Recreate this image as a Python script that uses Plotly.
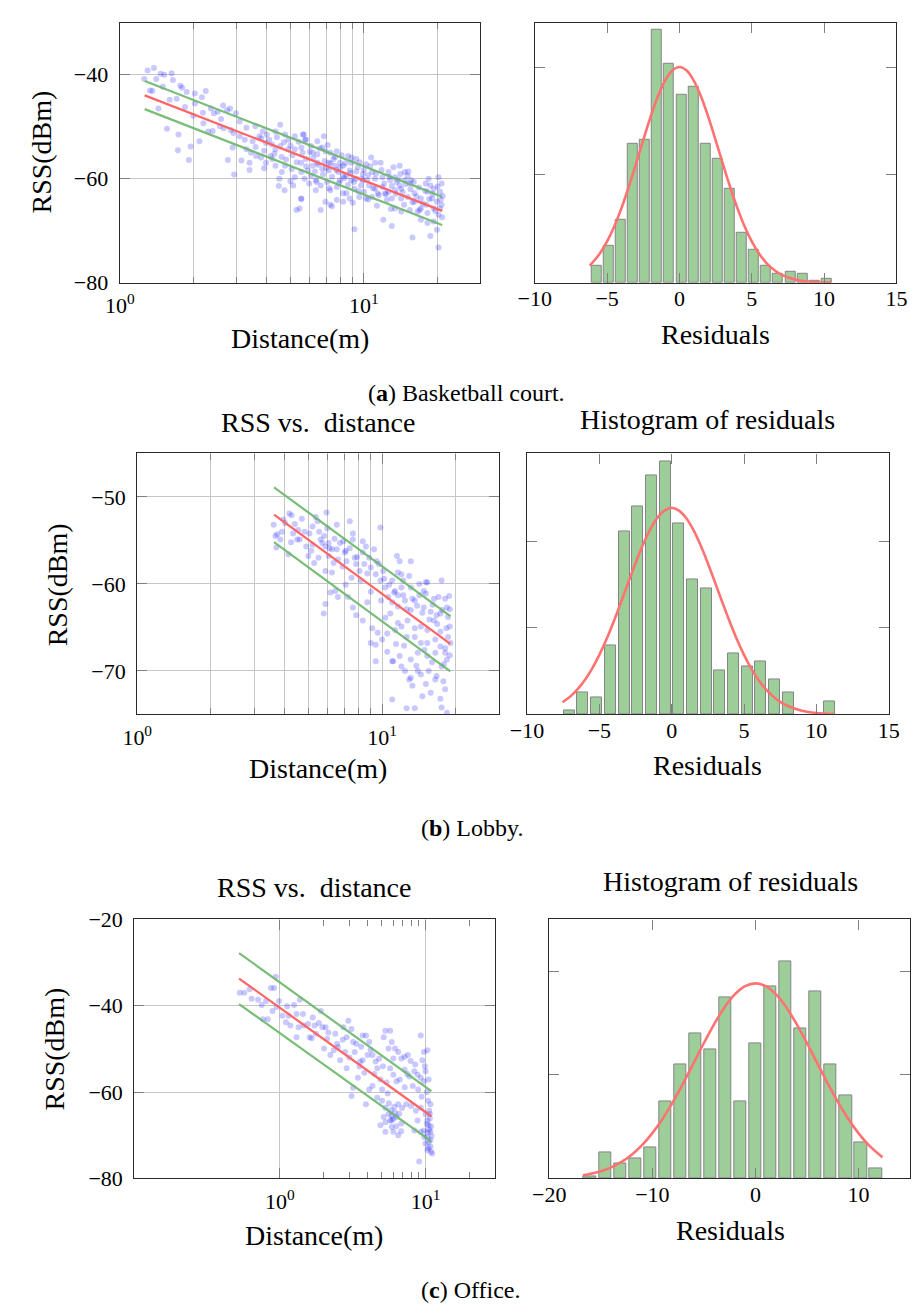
import plotly.graph_objects as go

# ================= DATA =================
# ---- (a) Basketball court : RSS vs distance samples ----
a_dist = [1.30, 1.38, 1.47, 1.52, 1.63, 1.65, 1.41, 1.26, 1.33, 1.36, 1.44, 1.56, 1.74, 1.73, 1.92, 1.95,
          2.12, 2.30, 2.25, 2.17, 2.03, 1.88, 1.80, 1.77, 1.71, 2.03, 2.19, 2.36, 2.43, 2.52, 2.65, 2.75,
          2.83, 2.99, 2.57, 2.67, 2.85, 2.92, 2.90, 2.77, 2.94, 3.15, 3.40, 3.45, 3.59, 3.73, 3.85, 3.97,
          4.09, 4.34, 4.54, 4.75, 4.90, 5.21, 5.67, 5.79, 3.62, 3.79, 3.97, 4.34, 4.61, 4.75, 5.06, 5.21,
          5.54, 4.34, 4.54, 4.90, 5.21, 5.54, 4.48, 4.73, 5.13, 5.54, 5.29, 3.25, 3.30, 3.10, 4.21, 4.15,
          5.62, 5.74, 6.07, 6.44, 6.85, 6.75, 6.95, 7.28, 7.74, 7.51, 7.18, 6.44, 6.17, 5.89, 5.71, 6.07,
          6.35, 6.65, 7.06, 7.28, 7.74, 7.98, 8.47, 8.74, 9.29, 9.44, 9.89, 10.2, 10.7, 11.1, 11.7, 10.8,
          10.3, 11.1, 11.9, 12.6, 12.8, 13.4, 14.0, 14.7, 15.1, 15.4, 14.2, 13.4, 12.6, 11.5, 10.8, 10.2,
          9.57, 8.74, 8.22, 7.74, 7.28, 6.95, 6.65, 7.39, 8.47, 9.14, 9.72, 11.9, 12.4, 13.4, 14.2, 15.4,
          16.1, 17.1, 18.2, 18.7, 19.0, 19.9, 20.5, 20.2, 19.3, 18.2, 17.1, 16.6, 18.2, 19.9, 18.7, 20.2,
          15.8, 13.0, 12.0, 9.14, 5.53, 5.45, 5.97, 6.35, 15.6, 14.7, 14.0, 13.6, 17.9, 19.3, 20.5, 20.8,
          20.2, 18.4, 20.8, 19.3, 17.1, 16.1, 15.1, 14.2, 13.0, 12.2, 11.1, 10.5, 9.89, 9.29, 8.87, 8.22,
          7.85, 8.22, 8.87, 8.61, 7.98, 7.62, 7.18, 6.75, 6.44, 6.17, 5.79, 5.53,
          3.3, 3.5, 3.6, 3.8, 3.9, 4.0, 4.2, 4.3, 4.4, 4.6, 4.7, 4.8, 5.0, 5.1, 5.3, 5.4,
          5.6, 5.8, 3.4, 3.9, 4.5, 5.0, 3.1, 2.6, 2.4, 2.2, 2.0, 1.85, 1.6, 1.5,
          6.0, 6.2, 6.3, 6.5, 6.6, 6.8, 6.9, 7.0, 7.1, 7.3, 7.4, 7.6, 7.7, 7.9, 8.0, 8.1,
          8.3, 8.4, 8.6, 8.8, 8.9, 9.1, 9.3, 9.5, 9.6, 9.8, 10.0, 10.0, 6.4, 7.2, 8.2, 9.0,
          10.4, 10.6, 10.9, 11.2, 11.4, 11.8, 12.1, 12.3, 12.7, 13.0, 13.2, 13.5, 13.8, 14.1, 14.4, 14.8,
          15.2, 15.5, 16.0, 16.4, 16.8, 17.4, 17.8, 18.5, 19.1, 19.6, 20.0, 20.6, 21.0, 20.9, 18.0, 16.9,
          15.8, 14.6, 12.9, 11.3, 10.4]
a_rss = [-39.2, -38.7, -39.8, -40.0, -39.7, -41.0, -40.8, -40.8, -43.0, -43.1, -46.5, -50.4, -51.5, -54.5, -56.4, -53.8,
         -52.8, -50.9, -43.1, -44.3, -43.6, -43.3, -42.5, -42.1, -44.6, -45.5, -47.3, -46.5, -47.4, -47.1, -45.9, -46.8,
         -46.5, -47.4, -49.9, -50.3, -50.6, -51.2, -54.0, -56.4, -59.2, -56.5, -56.9, -55.0, -49.9, -51.8, -50.9, -53.1,
         -52.5, -50.9, -49.6, -51.5, -52.5, -51.8, -51.5, -52.5, -55.6, -55.9, -56.9, -57.5, -58.7, -57.5, -58.1, -59.7,
         -58.7, -54.3, -53.7, -54.3, -54.3, -54.0, -61.4, -62.2, -61.3, -63.9, -66.0, -52.5, -54.3, -51.8, -56.2, -55.6,
         -51.5, -52.5, -53.7, -52.8, -51.8, -54.0, -54.7, -55.0, -54.7, -56.2, -56.9, -56.9, -57.5, -58.4, -60.0, -59.4,
         -60.3, -61.3, -60.6, -62.2, -61.6, -60.3, -59.4, -58.4, -56.2, -57.8, -59.1, -57.2, -55.9, -56.9, -56.9, -58.7,
         -60.3, -60.0, -59.7, -58.7, -60.3, -59.7, -57.5, -58.7, -59.4, -60.9, -61.9, -62.2, -62.5, -63.1, -63.5, -63.8,
         -63.5, -63.8, -64.4, -64.1, -65.0, -64.4, -66.0, -65.3, -62.8, -61.9, -61.3, -61.6, -64.1, -65.7, -66.3, -66.0,
         -64.4, -63.8, -62.5, -61.3, -63.8, -64.4, -65.7, -66.9, -68.2, -68.5, -67.9, -66.3, -66.6, -69.8, -71.0, -73.2,
         -71.3, -69.1, -67.9, -69.7, -63.8, -65.7, -60.9, -62.2, -60.3, -60.3, -61.3, -60.6, -60.9, -61.9, -62.5, -60.9,
         -59.7, -60.0, -65.0, -65.7, -65.7, -62.8, -63.5, -63.8, -63.8, -62.8, -61.9, -61.3, -60.3, -60.0, -60.3, -59.4,
         -58.7, -57.5, -56.9, -55.6, -56.9, -57.5, -58.4, -58.1, -55.3, -55.0, -56.2, -56.9,
         -50.2, -52.8, -53.9, -52.2, -54.6, -51.5, -53.4, -55.2, -52.0, -55.8, -53.0, -56.3, -53.6, -55.5, -56.8, -52.9,
         -55.0, -57.6, -58.3, -58.0, -60.0, -60.5, -49.0, -48.5, -50.8, -49.3, -47.9, -46.2, -44.8, -42.3,
         -54.8, -56.0, -58.6, -57.3, -54.2, -59.2, -56.6, -58.0, -53.5, -57.0, -59.6, -55.8, -58.3, -60.8, -57.8, -55.5,
         -59.9, -57.0, -61.2, -58.9, -55.9, -60.6, -58.6, -62.4, -56.8, -60.0, -58.3, -62.5, -60.6, -61.8, -62.8, -64.6,
         -59.3, -57.6, -61.8, -59.0, -62.8, -58.3, -60.9, -63.0, -59.6, -61.4, -57.8, -62.9, -60.2, -59.1, -62.6, -61.0,
         -58.6, -62.0, -60.6, -63.4, -61.7, -64.8, -62.3, -63.9, -62.9, -66.2, -61.5, -64.0, -63.3, -67.4, -65.0, -66.0,
         -64.5, -65.0, -65.8, -65.2, -64.0]
a_fit_d = [1.265, 20.9]
a_fit_rss = [-43.96, -66.17]
a_up_rss = [-41.2, -63.45]
a_lo_rss = [-46.6, -68.9]
a_bin_x = [-5.74, -4.90, -4.06, -3.23, -2.39, -1.55, -0.71, 0.13, 0.96, 1.80, 2.64, 3.48, 4.32, 5.15,
           5.99, 6.83, 7.67, 8.51, 9.35, 10.18]
a_bin_h = [0.158, 0.339, 0.588, 1.285, 1.321, 2.348, 2.027, 1.745, 1.821, 1.285, 1.145, 0.867, 0.464, 0.303,
           0.158, 0.082, 0.103, 0.082, 0.021, 0.036]
a_pdf_x = [-6.2, -5.5, -5, -4.5, -4, -3.5, -3, -2.5, -2, -1.5, -1, -0.5, 0, 0.5, 1, 1.5, 2, 2.5, 3, 3.5,
           4, 4.5, 5, 5.5, 6, 6.5, 7, 8, 9, 10.5]
a_pdf_y = [0.158, 0.271, 0.383, 0.524, 0.694, 0.890, 1.103, 1.323, 1.535, 1.724, 1.872, 1.967, 2.0, 1.967,
           1.872, 1.724, 1.535, 1.323, 1.103, 0.890, 0.694, 0.524, 0.383, 0.271, 0.185, 0.122, 0.078, 0.029,
           0.009, 0.001]

# ---- (b) Lobby ----
b_dist = [3.61, 3.73, 3.90, 3.84, 4.18, 4.14, 4.33, 4.40, 4.61, 4.82, 5.05, 4.90, 5.13, 5.28, 5.53, 5.61,
          5.36, 5.93, 5.97, 5.87, 6.05, 6.24, 6.53, 6.73, 6.95, 7.05, 6.34, 6.24, 5.87, 6.15, 7.16, 7.38,
          7.60, 7.73, 7.84, 8.09, 8.34, 8.46, 8.85, 8.99, 9.27, 9.42, 9.85, 9.85, 10.1, 10.3, 10.6, 11.0,
          11.3, 11.6, 12.0, 12.4, 12.2, 13.1, 13.6, 14.2, 14.8, 15.3, 16.3, 17.0, 17.5, 18.1, 18.4, 18.9,
          18.6, 17.3, 16.3, 15.3, 14.4, 13.6, 12.7, 12.0, 11.3, 10.8, 10.5, 10.0, 9.42, 8.99, 9.12, 8.34,
          7.84, 7.60, 7.26, 5.87, 5.78, 6.44, 11.0, 11.8, 13.1, 14.0, 15.3, 16.5, 17.3, 18.1, 18.4, 17.5,
          16.7, 15.5, 14.4, 13.1, 12.4, 12.0, 11.1, 10.5, 9.42, 12.9, 14.0, 15.1, 15.8, 16.5, 17.8, 18.1,
          17.3, 14.6, 13.3, 11.0, 12.6, 13.6, 17.5, 18.4, 18.1, 18.6, 18.9, 17.3, 16.5, 15.3, 14.4, 13.6,
          12.6, 11.6, 13.1, 14.8, 15.8, 16.7, 11.5, 11.8, 13.1, 12.0, 12.9, 14.2, 15.1, 11.6, 11.0, 9.70,
          8.59, 8.34, 7.60, 7.38, 6.53, 5.45, 4.27, 4.02, 3.67, 4.54, 5.20, 5.70, 6.05,
          3.7, 3.95, 4.25, 4.5, 4.7, 5.0, 5.2, 5.5, 5.8, 6.1, 6.4, 6.6, 6.9, 7.1, 7.5, 7.9,
          8.2, 8.7, 9.0, 9.5, 9.9, 10.2, 10.7, 11.2, 11.6, 12.2, 12.6, 13.3, 13.9, 14.6, 15.1, 15.6,
          16.1, 16.8, 17.6, 18.3, 18.8, 19.0, 18.9, 17.9, 16.0, 14.9, 13.8, 12.3, 11.4, 10.3, 9.6, 8.7,
          7.1, 6.6]
b_rss = [-53.2, -54.3, -54.0, -54.9, -51.9, -56.6, -54.2, -53.1, -54.9, -54.0, -54.2, -55.7, -56.2, -57.6, -54.0, -54.9,
         -52.3, -51.8, -53.6, -55.7, -56.8, -56.0, -56.0, -55.3, -55.1, -56.4, -57.6, -58.7, -58.5, -61.0, -57.4, -55.9,
         -54.2, -57.0, -57.7, -58.5, -56.4, -57.7, -57.0, -58.1, -56.0, -58.9, -53.5, -59.6, -58.5, -60.4, -61.5, -62.1,
         -60.8, -61.3, -60.4, -61.9, -59.6, -60.4, -61.9, -61.3, -60.8, -59.8, -61.7, -61.5, -59.6, -61.7, -62.7, -62.9,
         -63.8, -63.4, -64.2, -65.3, -64.9, -65.1, -64.2, -64.9, -65.3, -63.4, -65.7, -66.4, -67.0, -66.8, -65.1, -64.2,
         -63.6, -62.7, -61.5, -62.3, -63.4, -60.8, -68.9, -68.3, -68.7, -67.9, -68.3, -67.9, -67.2, -67.9, -68.7, -69.5,
         -70.6, -70.0, -70.4, -70.8, -70.0, -69.5, -68.9, -67.8, -68.9, -71.0, -70.0, -71.5, -72.5, -71.0, -71.2, -72.1,
         -73.2, -72.9, -71.7, -73.3, -74.3, -74.3, -74.2, -74.8, -67.4, -66.1, -64.9, -65.5, -66.4, -66.8, -66.8, -66.1,
         -66.1, -64.5, -63.0, -62.7, -63.2, -63.6, -56.8, -57.4, -57.4, -58.9, -59.1, -60.0, -59.8, -58.7, -59.6, -57.7,
         -55.7, -55.1, -54.9, -52.8, -53.2, -52.8, -52.1, -53.0, -54.5, -53.8, -55.5, -55.3, -55.3,
         -55.8, -52.6, -55.2, -54.9, -52.5, -56.8, -53.4, -57.0, -54.5, -55.9, -54.8, -57.2, -58.0, -56.2, -59.3, -56.9,
         -59.6, -58.8, -60.9, -57.4, -61.9, -59.4, -60.1, -61.0, -62.6, -61.3, -62.9, -61.7, -62.5, -63.3, -61.1, -64.1,
         -62.4, -64.6, -63.0, -65.1, -61.4, -66.8, -68.2, -69.2, -69.0, -67.6, -69.4, -67.1, -66.9, -63.9, -65.6, -62.1,
         -60.1, -61.5]
b_fit_d = [3.62, 19.0]
b_fit_rss = [-52.04, -66.9]
b_up_rss = [-48.9, -63.7]
b_lo_rss = [-55.2, -70.05]
b_bin_x = [-7.07, -6.13, -5.18, -4.24, -3.29, -2.35, -1.40, -0.46, 0.49, 1.43, 2.38, 3.33, 4.27, 5.22,
           6.16, 7.11, 8.05, 10.89]
b_bin_h = [0.049, 0.254, 0.197, 0.799, 2.106, 2.402, 2.754, 2.913, 2.208, 1.557, 1.458, 0.504, 0.708, 0.553,
           0.606, 0.402, 0.254, 0.152]
b_pdf_x = [-7.54, -7, -6.5, -6, -5.5, -5, -4.5, -4, -3.5, -3, -2.5, -2, -1.5, -1, -0.5, 0, 0.5, 1, 1.5, 2,
           2.5, 3, 3.5, 4, 4.5, 5, 5.5, 6, 6.5, 7, 7.5, 8, 9, 10, 11.25]
b_pdf_y = [0.141, 0.208, 0.291, 0.397, 0.528, 0.686, 0.869, 1.074, 1.294, 1.521, 1.744, 1.950, 2.128, 2.265,
           2.350, 2.383, 2.350, 2.265, 2.128, 1.950, 1.744, 1.521, 1.294, 1.074, 0.869, 0.686, 0.528, 0.397,
           0.291, 0.208, 0.145, 0.099, 0.042, 0.016, 0.004]

# ---- (c) Office ----
c_dist = [0.530, 0.569, 0.639, 0.708, 0.867, 0.912, 0.936, 0.804, 0.764, 0.824, 0.889, 0.986, 1.04, 1.12, 1.15, 1.18,
          1.30, 1.34, 1.30, 1.37, 1.44, 1.56, 1.60, 1.68, 1.73, 1.77, 1.91, 1.96, 2.06, 2.11, 2.01, 2.22,
          2.34, 2.40, 2.47, 2.59, 2.73, 2.80, 2.87, 2.95, 3.10, 3.18, 3.26, 3.10, 3.18, 2.87, 3.43, 3.52,
          3.70, 3.61, 3.70, 3.90, 4.10, 4.00, 4.32, 4.54, 4.66, 4.90, 4.32, 4.10, 3.90, 4.66, 5.03, 5.30,
          5.71, 5.16, 5.57, 5.86, 6.17, 6.49, 6.82, 7.18, 7.55, 6.01, 5.71, 6.01, 6.32, 6.65, 7.18, 7.76,
          8.17, 8.38, 8.81, 9.27, 9.75, 10.0, 9.27, 9.75, 10.3, 9.51, 10.5, 5.03, 5.30, 5.57, 5.86, 6.17,
          6.49, 5.86, 6.01, 6.49, 6.82, 4.90, 5.71, 5.16, 5.30, 5.86, 6.32, 7.36, 7.96, 8.59, 8.81, 9.27,
          10.0, 10.3, 10.5, 10.8, 9.75, 10.3, 10.8, 10.0, 10.5, 10.3, 10.9, 9.04, 9.27, 8.38, 10.8, 10.7,
          0.62, 0.75, 0.95, 1.1, 1.25, 1.45, 1.65, 1.85, 2.15, 2.5, 2.7, 3.0, 3.35, 3.55, 3.8, 4.2,
          4.45, 4.8, 5.1, 5.4, 5.5, 5.6, 5.8, 6.0, 6.1, 6.3, 6.6, 6.9, 7.2, 7.5, 7.9, 8.5,
          8.9, 9.4, 9.9, 10.2, 10.4, 10.6, 10.7, 10.9, 11.0, 10.5, 10.3, 10.8, 11.1, 10.2, 10.6, 9.8,
          5.3, 6.8]
c_rss = [-37.0, -37.0, -38.4, -38.6, -35.9, -35.9, -33.3, -38.9, -43.1, -43.1, -41.2, -38.9, -42.3, -40.1, -42.3, -44.6,
         -41.9, -45.0, -47.3, -38.6, -41.9, -44.2, -47.3, -42.7, -44.6, -46.5, -41.2, -45.0, -45.0, -47.7, -49.9, -51.4,
         -50.3, -46.5, -48.8, -52.6, -45.0, -50.7, -47.3, -43.5, -45.4, -48.4, -50.7, -60.9, -59.0, -54.5, -56.7, -54.1,
         -52.6, -49.5, -46.9, -46.9, -48.4, -51.4, -51.4, -52.9, -54.5, -57.1, -58.6, -59.4, -62.8, -61.3, -59.4, -45.8,
         -45.8, -47.3, -49.9, -48.4, -49.9, -50.7, -52.2, -51.8, -51.4, -52.2, -54.5, -56.0, -57.5, -57.1, -54.8, -56.4,
         -58.6, -55.2, -56.0, -56.7, -57.5, -55.2, -46.9, -50.7, -50.3, -52.6, -57.1, -62.0, -63.6, -65.1, -65.5, -64.7,
         -62.8, -68.1, -69.2, -70.0, -67.3, -67.7, -66.6, -65.8, -69.2, -66.6, -65.8, -62.8, -63.2, -64.3, -66.6, -63.6,
         -65.1, -66.6, -67.7, -69.2, -68.9, -70.4, -71.1, -71.9, -73.0, -73.4, -73.8, -76.1, -69.2, -68.9, -62.8, -65.1,
         -36.2, -39.8, -40.3, -43.8, -39.8, -44.6, -47.5, -44.0, -46.2, -49.6, -47.9, -52.0, -48.8, -53.0, -55.5, -50.2,
         -55.8, -52.3, -54.0, -57.8, -60.3, -62.6, -64.2, -66.2, -63.4, -67.9, -65.0, -63.7, -58.9, -55.8, -52.8, -53.6,
         -59.4, -61.1, -54.0, -60.0, -62.0, -64.3, -66.1, -68.0, -70.2, -71.6, -69.3, -72.6, -74.2, -67.4, -68.7, -70.4,
         -67.0, -69.1]
c_fit_d = [0.524, 10.96]
c_fit_rss = [-33.7, -65.6]
c_up_rss = [-27.8, -59.8]
c_lo_rss = [-39.6, -71.4]
c_bin_x = [-16.06, -14.60, -13.14, -11.68, -10.22, -8.76, -7.30, -5.84, -4.38, -2.92, -1.46, 0.0, 1.46, 2.92,
           4.38, 5.84, 7.30, 8.76, 10.22, 11.68]
c_bin_h = [0.022, 0.249, 0.148, 0.196, 0.300, 0.744, 1.101, 1.397, 1.246, 1.748, 0.744, 1.300, 1.852, 2.098,
           1.451, 1.801, 1.101, 0.801, 0.347, 0.101]
c_pdf_x = [-16.74, -16, -15, -14, -13, -12, -11, -10, -9, -8, -7, -6, -5, -4, -3, -2, -1, 0, 1, 2, 3, 4, 5,
           6, 7, 8, 9, 10, 11, 12.33]
c_pdf_y = [0.031, 0.045, 0.070, 0.107, 0.159, 0.229, 0.321, 0.437, 0.576, 0.739, 0.920, 1.112, 1.307, 1.490,
           1.651, 1.776, 1.856, 1.883, 1.856, 1.776, 1.651, 1.490, 1.307, 1.112, 0.920, 0.739, 0.576, 0.437,
           0.321, 0.204]

log_tick_vals = [1, 10]
log_tick_text = ["10<sup>0</sup>", "10<sup>1</sup>"]
minor_vals = [2, 3, 4, 5, 6, 7, 8, 9, 20]

# ================= STYLE =================
W, H = 921, 1316
SERIF = "Liberation Serif"
PT_COLOR = "rgba(10,10,255,0.22)"
RED = "#ff6464"
GREEN = "rgba(105,182,105,0.9)"
BAR_FILL = "#9dcd99"
BAR_LINE = "#858585"
GRID = "#c6c6c6"
TICKC = "#808080"


def px_x(p):
    return p / W


def px_y(p):
    return 1 - p / H


def base_axis(**kw):
    d = dict(showline=True, linecolor="#2a2a2a", linewidth=1.2, mirror="allticks",
             ticks="inside", ticklen=10, tickcolor=TICKC, tickwidth=1.2,
             tickfont=dict(family=SERIF, size=22, color="black"),
             zeroline=False, showgrid=False, ticklabelstandoff=6)
    d.update(kw)
    return d


fig = go.Figure()

panels = [
    (a_dist, a_rss, a_fit_d, a_fit_rss, a_up_rss, a_lo_rss, a_bin_x, a_bin_h, 0.69, a_pdf_x, a_pdf_y),
    (b_dist, b_rss, b_fit_d, b_fit_rss, b_up_rss, b_lo_rss, b_bin_x, b_bin_h, 0.76, b_pdf_x, b_pdf_y),
    (c_dist, c_rss, c_fit_d, c_fit_rss, c_up_rss, c_lo_rss, c_bin_x, c_bin_h, 1.19, c_pdf_x, c_pdf_y),
]

for i, (dist, rss, fd, fr, fu, fl, bx, bh, bw, px_, py_) in enumerate(panels):
    nl, nr = 2 * i + 1, 2 * i + 2
    xl = "x" if nl == 1 else "x%d" % nl
    yl = "y" if nl == 1 else "y%d" % nl
    xr, yr = "x%d" % nr, "y%d" % nr
    fig.add_trace(go.Scatter(x=dist, y=rss, mode="markers", xaxis=xl, yaxis=yl,
                             marker=dict(color=PT_COLOR, size=6, line=dict(width=0)), showlegend=False))
    fig.add_trace(go.Scatter(x=fd, y=fu, mode="lines", xaxis=xl, yaxis=yl,
                             line=dict(color=GREEN, width=2.2), showlegend=False))
    fig.add_trace(go.Scatter(x=fd, y=fl, mode="lines", xaxis=xl, yaxis=yl,
                             line=dict(color=GREEN, width=2.2), showlegend=False))
    fig.add_trace(go.Scatter(x=fd, y=fr, mode="lines", xaxis=xl, yaxis=yl,
                             line=dict(color=RED, width=2.2), showlegend=False))
    fig.add_trace(go.Bar(x=bx, y=bh, width=bw, xaxis=xr, yaxis=yr,
                         marker=dict(color=BAR_FILL, line=dict(color=BAR_LINE, width=1)), showlegend=False))
    fig.add_trace(go.Scatter(x=px_, y=py_, mode="lines", xaxis=xr, yaxis=yr,
                             line=dict(color="#ff7272", width=2.6, shape="spline"), showlegend=False))

# ---- axes geometry (pixels) ----
geo = [
    # left box x0,x1, right box x0,x1, y0(top), y1(bottom)
    (106, 478, 534, 907, 11, 276),
    (124, 497, 526, 899, 450, 716),
    (121, 493, 549, 921.5, 925, 1189),
]
scatter_y = [
    dict(range=[-80, -30], tickvals=[-80, -60, -40]),
    dict(range=[-75, -45], tickvals=[-70, -60, -50]),
    dict(range=[-80, -20], tickvals=[-80, -60, -40, -20]),
]
log_ranges = [[0, 1.4771], [0, 1.4771], [-1, 1.4771]]
hist_x = [
    dict(range=[-10, 15], tickvals=[-10, -5, 0, 5, 10, 15]),
    dict(range=[-10, 15], tickvals=[-10, -5, 0, 5, 10, 15]),
    dict(range=[-20, 15], tickvals=[-20, -10, 0, 10]),
]
hist_ytop = [2.41, 3.01, 2.5]

layout = {}
for i in range(3):
    lx0, lx1, rx0, rx1, t, b = geo[i]
    nl = 2 * i + 1
    nr = 2 * i + 2
    kl = "" if nl == 1 else str(nl)
    kr = str(nr)
    ydom = [px_y(b), px_y(t)]
    minor = dict(tickmode="array", tickvals=minor_vals, ticks="inside", ticklen=6,
                 tickcolor=TICKC, showgrid=(i < 2), gridcolor=GRID, gridwidth=1.2)
    layout["xaxis" + kl] = base_axis(type="log", range=log_ranges[i], domain=[px_x(lx0), px_x(lx1)],
                                     anchor="y" + kl, tickvals=log_tick_vals, ticktext=log_tick_text,
                                     showgrid=True, gridcolor=GRID, gridwidth=1.2, minor=minor,
                                     ticklabelstandoff=3)
    layout["yaxis" + kl] = base_axis(domain=ydom, anchor="x" + kl, showgrid=True, gridcolor=GRID,
                                     gridwidth=1.2, **scatter_y[i])
    layout["xaxis" + kr] = base_axis(domain=[px_x(rx0), min(px_x(rx1), 1.0)], anchor="y" + kr,
                                     ticklabelstandoff=-4, **hist_x[i])
    layout["yaxis" + kr] = base_axis(domain=ydom, anchor="x" + kr, range=[0, hist_ytop[i]],
                                     tickvals=[1, 2], showticklabels=False)

fig.update_layout(**layout)

# ---- texts ----
ann = []


def txt(s, x, y, size, angle=0):
    ann.append(dict(text=s, x=px_x(x), y=px_y(y), xref="paper", yref="paper", showarrow=False,
                    xanchor="center", yanchor="middle", textangle=angle,
                    font=dict(family=SERIF, size=size, color="black")))


AX = 28
# axis titles
txt("Distance(m)", 291.7, 333, AX)
txt("RSS(dBm)", 25, 143, AX, -90)
txt("Residuals", 720.8, 329, AX)
txt("Distance(m)", 310, 771, AX)
txt("RSS(dBm)", 41.7, 584, AX, -90)
txt("Residuals", 712.5, 768, AX)
txt("Distance(m)", 306.3, 1246.7, AX)
txt("RSS(dBm)", 38.3, 1057.5, AX, -90)
txt("Residuals", 735.8, 1241.7, AX)
# panel titles
txt("RSS vs.  distance", 310, 418, 28)
txt("Histogram of residuals", 712.5, 415, 28)
txt("RSS vs.  distance", 306.8, 892, 28)
txt("Histogram of residuals", 735.8, 886, 28)
# captions
txt("(<b>a</b>) Basketball court.", 464, 388, 24)
txt("(<b>b</b>) Lobby.", 469, 832, 24)
txt("(<b>c</b>) Office.", 468, 1303, 24)

fig.update_layout(annotations=ann, width=W, height=H, margin=dict(l=0, r=0, t=0, b=0),
                  paper_bgcolor="white", plot_bgcolor="white", bargap=0, showlegend=False)

fig.write_html("out.html")
